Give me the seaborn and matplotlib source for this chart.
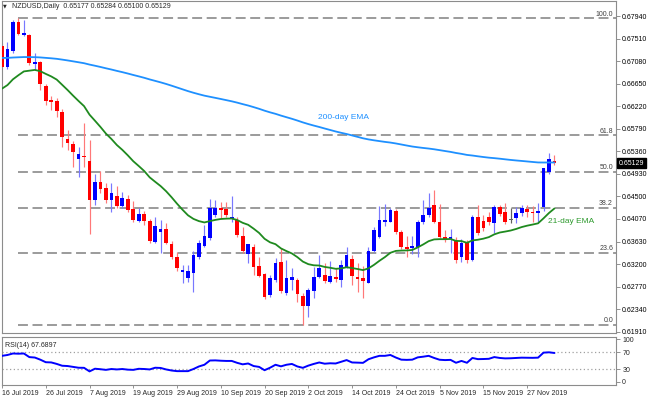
import numpy as np
import pandas as pd
import matplotlib
matplotlib.use("Agg")
import matplotlib.pyplot as plt
import matplotlib.transforms as mtransforms
import seaborn as sns

# ---------------- data ----------------
opens = [0.67367, 0.66971, 0.67271, 0.67831, 0.67577, 0.67571, 0.67017, 0.67055, 0.66602, 0.66340,
         0.66321, 0.66111, 0.65589, 0.65494, 0.65207, 0.65270, 0.65175, 0.64424, 0.64762, 0.64647,
         0.64424, 0.64506, 0.64315, 0.64437, 0.64252, 0.64028, 0.64150, 0.64022, 0.63627, 0.63818,
         0.63869, 0.63583, 0.63340, 0.63053, 0.62939, 0.63023, 0.63340, 0.63545, 0.63692, 0.64137,
         0.64265, 0.64252, 0.64060, 0.64041, 0.63736, 0.63401, 0.63531, 0.63162, 0.63004, 0.62608,
         0.62895, 0.63233, 0.62641, 0.62895, 0.62895, 0.62595, 0.62398, 0.62694, 0.62958, 0.62990,
         0.62862, 0.62958, 0.62895, 0.63149, 0.63296, 0.62958, 0.62927, 0.62843, 0.63449, 0.63726,
         0.64003, 0.64009, 0.64208, 0.63812, 0.63531, 0.63497, 0.63531, 0.64003, 0.64131, 0.64328,
         0.64009, 0.63717, 0.63669, 0.63646, 0.63334, 0.63602, 0.63277, 0.64093, 0.64022, 0.64104,
         0.63984, 0.64284, 0.64194, 0.64041, 0.64074, 0.64169, 0.64246, 0.64200, 0.64175, 0.64296,
         0.64964, 0.65177]
highs = [0.67424, 0.67437, 0.67864, 0.67896, 0.67864, 0.67590, 0.67227, 0.67080, 0.66640, 0.66411,
         0.66373, 0.66163, 0.65761, 0.65551, 0.65442, 0.65895, 0.65570, 0.64921, 0.64978, 0.64749,
         0.64749, 0.64697, 0.64571, 0.64519, 0.64405, 0.64276, 0.64213, 0.64055, 0.64093, 0.64041,
         0.63978, 0.63646, 0.63436, 0.63181, 0.63181, 0.63449, 0.63659, 0.63946, 0.64437, 0.64424,
         0.64391, 0.64391, 0.64500, 0.64093, 0.63908, 0.63592, 0.63583, 0.63329, 0.63023, 0.62990,
         0.63309, 0.63500, 0.63277, 0.63118, 0.62927, 0.62641, 0.62736, 0.63149, 0.63373, 0.63225,
         0.63264, 0.63118, 0.63277, 0.63531, 0.63367, 0.63229, 0.63172, 0.63531, 0.63913, 0.64309,
         0.64347, 0.64271, 0.64252, 0.63850, 0.63736, 0.63736, 0.64041, 0.64424, 0.64552, 0.64615,
         0.64347, 0.63850, 0.63864, 0.63722, 0.63678, 0.63659, 0.64137, 0.64328, 0.64137, 0.64194,
         0.64319, 0.64328, 0.64361, 0.64271, 0.64284, 0.64328, 0.64328, 0.64309, 0.64372, 0.65035,
         0.65316, 0.65284]
lows = [0.66946, 0.66921, 0.67239, 0.67577, 0.67558, 0.67004, 0.66908, 0.66526, 0.66239, 0.66144,
        0.66010, 0.65437, 0.65379, 0.65054, 0.64869, 0.65054, 0.63774, 0.64328, 0.64563, 0.64366,
        0.64200, 0.64265, 0.64265, 0.64194, 0.64009, 0.64009, 0.63946, 0.63608, 0.63596, 0.63405,
        0.63583, 0.63296, 0.63067, 0.62832, 0.62862, 0.62671, 0.63302, 0.63520, 0.63659, 0.64104,
        0.64074, 0.64104, 0.63994, 0.63711, 0.63411, 0.63214, 0.62990, 0.62958, 0.62532, 0.62576,
        0.62862, 0.62652, 0.62608, 0.62704, 0.62480, 0.62035, 0.62182, 0.62545, 0.62927, 0.62832,
        0.62843, 0.62862, 0.62767, 0.63118, 0.62799, 0.62665, 0.62551, 0.62832, 0.63424, 0.63697,
        0.63927, 0.63994, 0.63783, 0.63487, 0.63340, 0.63392, 0.63334, 0.63965, 0.64104, 0.63978,
        0.63707, 0.63627, 0.63411, 0.63214, 0.63239, 0.63229, 0.63258, 0.63755, 0.63831, 0.63946,
        0.63787, 0.64127, 0.63965, 0.63990, 0.63978, 0.64118, 0.64104, 0.64009, 0.64009, 0.64219,
        0.64921, 0.65100]
closes = [0.66971, 0.67304, 0.67831, 0.67590, 0.67609, 0.67036, 0.67055, 0.66640, 0.66321, 0.66302,
          0.66124, 0.65622, 0.65519, 0.65347, 0.65297, 0.65240, 0.64424, 0.64773, 0.64634, 0.64424,
          0.64563, 0.64315, 0.64456, 0.64233, 0.64041, 0.64156, 0.64022, 0.63646, 0.63927, 0.63869,
          0.63608, 0.63329, 0.63118, 0.63086, 0.63067, 0.63373, 0.63596, 0.63741, 0.64276, 0.64276,
          0.64233, 0.64137, 0.64093, 0.63755, 0.63449, 0.63577, 0.63137, 0.62977, 0.62564, 0.62939,
          0.63225, 0.62690, 0.62939, 0.62946, 0.62627, 0.62398, 0.62704, 0.62958, 0.63130, 0.62876,
          0.62971, 0.62908, 0.63187, 0.63373, 0.62965, 0.62920, 0.62876, 0.63449, 0.63850, 0.64041,
          0.64041, 0.64238, 0.63812, 0.63525, 0.63487, 0.63554, 0.64009, 0.64137, 0.64265, 0.64009,
          0.63722, 0.63669, 0.63717, 0.63277, 0.63602, 0.63277, 0.64104, 0.63799, 0.63888, 0.64009,
          0.64296, 0.64156, 0.64003, 0.64041, 0.64169, 0.64265, 0.64200, 0.64169, 0.64213, 0.65029,
          0.65201, 0.65129]
rsi_values = [61.0, 63.0, 66.5, 66.0, 66.5, 58.0, 57.0, 52.0, 46.0, 45.5,
              42.0, 37.7, 37.0, 35.0, 33.0, 32.8, 24.4, 30.7, 29.5, 28.0,
              30.0, 29.0, 30.0, 28.5, 28.0, 30.5, 30.0, 29.0, 33.0, 32.5,
              29.0, 26.5, 25.0, 25.0, 25.0, 30.0, 36.0, 40.0, 50.0, 50.3,
              49.5, 49.0, 49.0, 44.5, 41.0, 43.0, 37.0, 35.0, 27.2, 33.0,
              40.0, 36.3, 40.0, 41.9, 36.0, 32.8, 38.0, 42.0, 45.4, 42.5,
              43.5, 43.0, 47.0, 51.0, 45.4, 45.0, 44.5, 53.0, 57.4, 61.0,
              61.0, 63.0, 57.0, 52.0, 51.5, 52.0, 57.4, 59.0, 61.0, 56.0,
              51.8, 51.0, 51.5, 44.7, 49.0, 44.7, 56.0, 53.2, 53.5, 54.0,
              58.1, 56.0, 55.0, 55.3, 56.0, 56.7, 56.5, 56.3, 56.7, 68.5,
              69.3, 67.69]

first_date = "2019-07-16"
date_labels = ["16 Jul 2019", "26 Jul 2019", "7 Aug 2019", "19 Aug 2019", "29 Aug 2019",
               "10 Sep 2019", "20 Sep 2019", "2 Oct 2019", "14 Oct 2019", "24 Oct 2019",
               "5 Nov 2019", "15 Nov 2019", "27 Nov 2019"]
price_ticks = [0.67940, 0.67510, 0.67080, 0.66650, 0.66220, 0.65790, 0.65360, 0.64930,
               0.64500, 0.64070, 0.63630, 0.63200, 0.62770, 0.62340, 0.61910]
rsi_ticks = [100, 70, 30, 0]
fib_ratios = [0.0, 23.6, 38.2, 50.0, 61.8, 100.0]
fib_high_bar = 3
fib_low_bar = 55
ema200_prior = 0.6714
ema21_prior = 0.6651
rsi_shown = "67.6897"

# ---------------- indicators ----------------
def ema(values, prior, n):
    a = 2.0 / (n + 1)
    out, e = [], prior
    for v in values:
        e = e + a * (v - e)
        out.append(e)
    return np.array(out)

ema200 = ema(closes, ema200_prior, 200)
ema21 = ema(closes, ema21_prior, 21)

n = len(closes)
idx = np.arange(n)
dates = pd.bdate_range(first_date, periods=n)
df = pd.DataFrame({"i": idx, "o": opens, "h": highs, "l": lows, "c": closes,
                   "ema200": ema200, "ema21": ema21, "rsi": rsi_values})

# ---------------- styling ----------------
sns.set_theme(style="white")
plt.rcParams["font.family"] = ["Liberation Sans", "DejaVu Sans"]

W, H = 648, 399
fig = plt.figure(figsize=(W / 100, H / 100), dpi=100)
fig.patch.set_facecolor("white")

def fx(px):
    return px / W

def fy(py):
    return 1 - py / H

left_px, right_px = 1.5, 616
ax = fig.add_axes([fx(left_px), fy(333), (right_px - left_px) / W, (333 - 1) / H])
axr = fig.add_axes([fx(left_px), fy(385), (right_px - left_px) / W, (385 - 337) / H])

step = 5.47
def bar_of(px):
    return (px - 2) / step

xlo, xhi = bar_of(left_px), bar_of(right_px)
for a in (ax, axr):
    a.set_xlim(xlo, xhi)
    a.set_facecolor("white")
    for s in a.spines.values():
        s.set_color("#8c8c8c")
        s.set_linewidth(0.8)

ax.set_ylim(0.61882, 0.68227)
axr.set_ylim(-7.6, 105.3)

# ---------------- candles ----------------
up_c, dn_c, dj_c = "#0000ff", "#ff0000", "#606060"
up_w, dn_w = "#7878ff", "#ff7878"
o = np.array(opens); c = np.array(closes)
body_col = np.where(c > o, up_c, np.where(c < o, dn_c, dj_c))
wick_col = np.where(c > o, up_w, np.where(c < o, dn_w, dj_c))
ax.vlines(idx, lows, highs, colors=wick_col, linewidth=0.85, zorder=2)
ax.bar(idx, np.maximum(np.abs(c - o), 0.00012), bottom=np.minimum(o, c), width=0.68,
       color=body_col, linewidth=0, zorder=3)

# ---------------- fibonacci ----------------
f_hi, f_lo = highs[fib_high_bar], lows[fib_low_bar]
for r in fib_ratios:
    lvl = f_lo + r / 100.0 * (f_hi - f_lo)
    ax.plot([fib_high_bar, xhi], [lvl, lvl], color="#808080", lw=1.1,
            linestyle=(0, (6.5, 3)), zorder=1)
    ax.text(bar_of(613), lvl + 0.00012, f"{r:.1f}", ha="right", va="bottom",
            fontsize=5, color="#404040", zorder=4)

# ---------------- EMAs ----------------
sns.lineplot(data=df, x="i", y="ema200", ax=ax, color="#1e90ff", lw=1.3, zorder=4)
sns.lineplot(data=df, x="i", y="ema21", ax=ax, color="#1f8a1f", lw=1.3, zorder=4)
ax.text(bar_of(318), 0.66010, "200-day EMA", color="#1e90ff", fontsize=6, ha="left", va="center")
ax.text(bar_of(548), 0.64022, "21-day EMA", color="#2e9a2e", fontsize=6, ha="left", va="center")

# ---------------- axes ticks ----------------
ax.set_xticks([])
ax.set_xlabel(""); ax.set_ylabel("")
ax.yaxis.tick_right()
ax.set_yticks(price_ticks)
ax.set_yticklabels([f"{v:.5f}" for v in price_ticks])
ax.tick_params(axis="y", length=3, width=0.6, color="#808080", labelsize=5, pad=1.5,
               labelcolor="black", right=True, left=False)

tr = mtransforms.blended_transform_factory(ax.transAxes, ax.transData)
ax.text(1.004, closes[-1], f"{closes[-1]:.5f}", transform=tr, ha="left", va="center",
        fontsize=5, color="white", zorder=10, clip_on=False,
        bbox=dict(boxstyle="square,pad=0.25", fc="black", ec="black"))

# ---------------- RSI ----------------
for lv in (70, 30):
    axr.axhline(lv, color="#a0a0a0", lw=0.9, linestyle=(0, (1, 2)), zorder=1)
sns.lineplot(data=df, x="i", y="rsi", ax=axr, color="#0000ff", lw=1.4, zorder=3)
axr.set_xlabel(""); axr.set_ylabel("")
axr.yaxis.tick_right()
axr.set_yticks(rsi_ticks)
axr.set_yticklabels([str(v) for v in rsi_ticks])
axr.tick_params(axis="y", length=3, width=0.6, color="#808080", labelsize=5, pad=1.5,
                right=True, left=False)
label_dates = [pd.to_datetime(s, format="%d %b %Y") for s in date_labels]
pos = [int(np.where(dates == d)[0][0]) for d in label_dates]
axr.set_xticks(pos)
axr.set_xticklabels(date_labels, ha="left")
axr.tick_params(axis="x", length=2.5, width=0.6, color="#808080", labelsize=5, pad=1.2,
                bottom=True)
axr.text(0.005, 0.9, f"RSI(14) {rsi_shown}", transform=axr.transAxes, fontsize=5,
         ha="left", va="top")

# ---------------- title ----------------
fig.text(fx(3.2), fy(6), "\u25bc", fontsize=3.5, family=["DejaVu Sans"], va="center", ha="left")
fig.text(fx(12), fy(6.5),
         f"NZDUSD,Daily  {opens[-1]:.5f} {highs[-1]:.5f} {lows[-1]:.5f} {closes[-1]:.5f}",
         fontsize=5, va="center", ha="left")

fig.savefig("out.png", dpi=100, facecolor="white")
